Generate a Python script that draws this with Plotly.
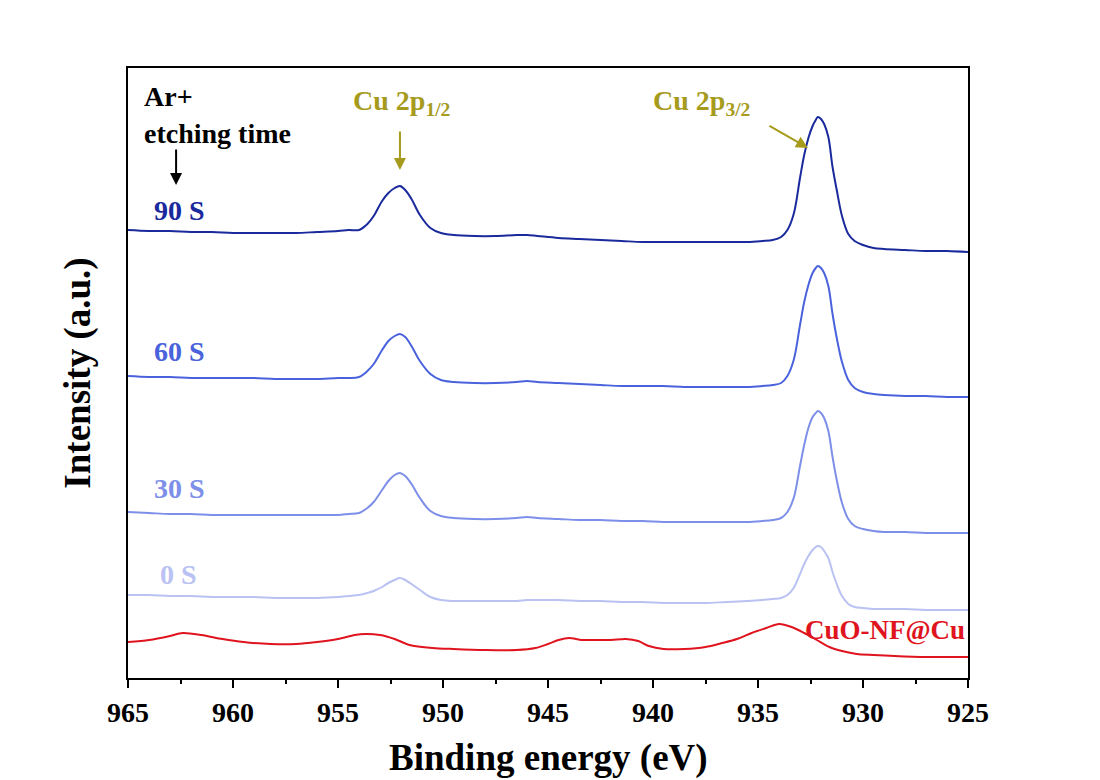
import plotly.graph_objects as go

# Binding energy grid (eV) shared by the Ar+ etched spectra
energy = [965, 964, 963, 962, 961, 960, 959, 958, 957, 956,
          955, 954.5, 954, 953.6, 953.3, 952.9, 952.6, 952.3, 952.05, 951.8,
          951.5, 951.1, 950.6, 950.1, 949.5, 948.5, 947.5, 946.5, 946, 945.5,
          944.5, 943.5, 942.5, 941.5, 940.5, 939.5, 938.5, 937.5, 936.5, 935.5,
          934.8, 934.3, 933.9, 933.6, 933.3, 933.0, 932.8, 932.6, 932.4, 932.25,
          932.15, 932.0, 931.85, 931.65, 931.45, 931.25, 931.0, 930.7, 930.4, 930.0,
          929.5, 929, 928, 927, 926, 925]

s90 = [448, 447, 447, 446, 446, 445, 445, 445, 445, 446,
       447, 448, 448, 454, 462, 477, 485, 490, 492, 488,
       479, 463, 450, 445, 443, 442, 442, 443, 443, 442,
       440, 439, 438, 437, 436, 436, 436, 436, 436, 436,
       437, 438, 441, 448, 464, 500, 523, 540, 552, 558,
       561, 559, 554, 541, 511, 488, 462, 444, 437, 433,
       430, 429, 428, 427, 427, 426]

s60 = [302, 301, 301, 300, 300, 300, 300, 299, 299, 299,
       300, 300, 301, 307, 314, 328, 337, 342, 344, 341,
       332, 317, 304, 298, 296, 295, 295, 296, 297, 296,
       295, 294, 293, 292, 292, 292, 291, 291, 291, 291,
       292, 293, 295, 302, 318, 353, 376, 393, 405, 410,
       412, 410, 405, 392, 364, 340, 316, 298, 290, 286,
       284, 283, 282, 282, 281, 281]

s30 = [166, 165, 164, 164, 163, 163, 163, 163, 163, 163,
       163, 164, 165, 170, 176, 188, 197, 203, 205, 202,
       194, 180, 167, 162, 160, 159, 159, 160, 161, 160,
       159, 158, 158, 157, 157, 156, 156, 156, 156, 156,
       157, 158, 160, 166, 180, 212, 233, 250, 261, 265,
       267, 265, 260, 247, 221, 198, 175, 159, 152, 149,
       147, 146, 146, 145, 145, 145]

s0 = [83, 83, 82, 82, 81, 81, 81, 80, 80, 80,
      81, 82, 83, 85, 87, 91, 95, 98, 100, 98,
      94, 88, 81, 78, 77, 77, 77, 77, 78, 78,
      78, 77, 77, 76, 76, 75, 75, 75, 76, 77,
      78, 79, 80, 83, 90, 104, 114, 122, 128, 131,
      132, 131, 127, 120, 106, 94, 82, 74, 71, 70,
      69, 69, 69, 68, 68, 68]

# Pristine CuO-NF@Cu spectrum
energy_cuo = [965, 964, 963, 962.4, 961.5, 960.5, 959.5, 958.2, 957, 956,
              955, 954.2, 953.7, 953, 952.3, 951.6, 950.5, 949.5, 948, 946.5,
              945.6, 945, 944.5, 944, 943.4, 942.8, 942, 941.3, 940.7, 940.2,
              939.5, 938.5, 937.5, 936.7, 936, 935.3, 934.6, 934.0, 933.4, 932.8,
              932.2, 931.6, 931, 930.3, 929.5, 928.5, 927, 925]
s_cuo = [36, 38, 42, 45, 43, 39, 36, 34, 34, 36,
         39, 43, 44, 43, 39, 33, 30, 29, 28, 28,
         30, 34, 38, 40, 38, 38, 38, 39, 37, 32,
         29, 29, 31, 35, 39, 45, 50, 54, 51, 45,
         38, 31, 27, 24, 23, 22, 21, 21]

series_names = ["90 S", "60 S", "30 S", "0 S"]
series_vals = [s90, s60, s30, s0]
series_colors = ["#1a2a9c", "#4a63dc", "#7d8fe8", "#b9c2f2"]
label_pos = [468, 327, 190, 104]

tick_vals = [965, 960, 955, 950, 945, 940, 935, 930, 925]

FONT = "Liberation Serif"
OLIVE = "#a69b1c"
RED = "#e0141e"

fig = go.Figure()
for name, vals, col in zip(series_names, series_vals, series_colors):
    fig.add_trace(go.Scatter(x=energy, y=vals, mode="lines", name=name,
                             line=dict(color=col, width=2, shape="spline", smoothing=1.0)))
fig.add_trace(go.Scatter(x=energy_cuo, y=s_cuo, mode="lines", name="CuO-NF@Cu",
                         line=dict(color=RED, width=2, shape="spline", smoothing=0.8)))

ann = []
def txt(x, y, t, color, size=28, xanchor="left"):
    ann.append(dict(x=x, y=y, xref="x", yref="y", text=t, showarrow=False,
                    xanchor=xanchor, yanchor="middle",
                    font=dict(family=FONT, size=size, color=color, weight="bold")))

txt(964.33, 582, "Ar+", "black")
txt(964.33, 545, "etching time", "black")
for name, col, yy in zip(series_names, series_colors, label_pos):
    txt(963.86 if name != "0 S" else 963.57, yy, name, col)
txt(925.05, 48, "CuO-NF@Cu", RED, size=27, xanchor="right")
txt(954.4, 576, "Cu 2p<sub>1/2</sub>", OLIVE)
txt(940.1, 576, "Cu 2p<sub>3/2</sub>", OLIVE)

# x-axis title (placed as paper annotation so it can sit low like the original)
ann.append(dict(x=0.5, y=-0.131, xref="paper", yref="paper",
                text="Binding energy (eV)", showarrow=False,
                xanchor="center", yanchor="middle",
                font=dict(family=FONT, size=37, color="black", weight="bold")))

def arrow(x, y, ax, ay, color):
    ann.append(dict(x=x, y=y, xref="x", yref="y", text="", showarrow=True,
                    ax=ax, ay=ay, axref="pixel", ayref="pixel",
                    arrowhead=2, arrowsize=1.2, arrowwidth=2, arrowcolor=color))

arrow(962.71, 493, 0, -37, "black")
arrow(952.05, 508, 0, -40, OLIVE)
arrow(932.62, 530, -40, -23, OLIVE)

fig.update_layout(
    width=1100, height=780,
    margin=dict(l=128, r=132, t=68, b=102),
    paper_bgcolor="white", plot_bgcolor="white",
    showlegend=False,
    annotations=ann,
    font=dict(family=FONT, color="black"),
    xaxis=dict(range=[965, 925], tickvals=tick_vals, ticks="outside", ticklen=8,
               tickwidth=2, tickcolor="black", showline=True, linewidth=2,
               linecolor="black", mirror=True, showgrid=False, zeroline=False,
               automargin=False,
               tickfont=dict(family=FONT, size=28, color="black", weight="bold"),
               minor=dict(dtick=2.5, tick0=925, ticks="outside", ticklen=4,
                          tickwidth=2, tickcolor="black", showgrid=False)),
    yaxis=dict(range=[0, 610], showticklabels=False, ticks="", showline=True,
               linewidth=2, linecolor="black", mirror=True, showgrid=False,
               zeroline=False, automargin=False,
               title=dict(text="Intensity (a.u.)", standoff=24,
                          font=dict(family=FONT, size=37, color="black", weight="bold"))),
)

fig.write_html("out.html")
